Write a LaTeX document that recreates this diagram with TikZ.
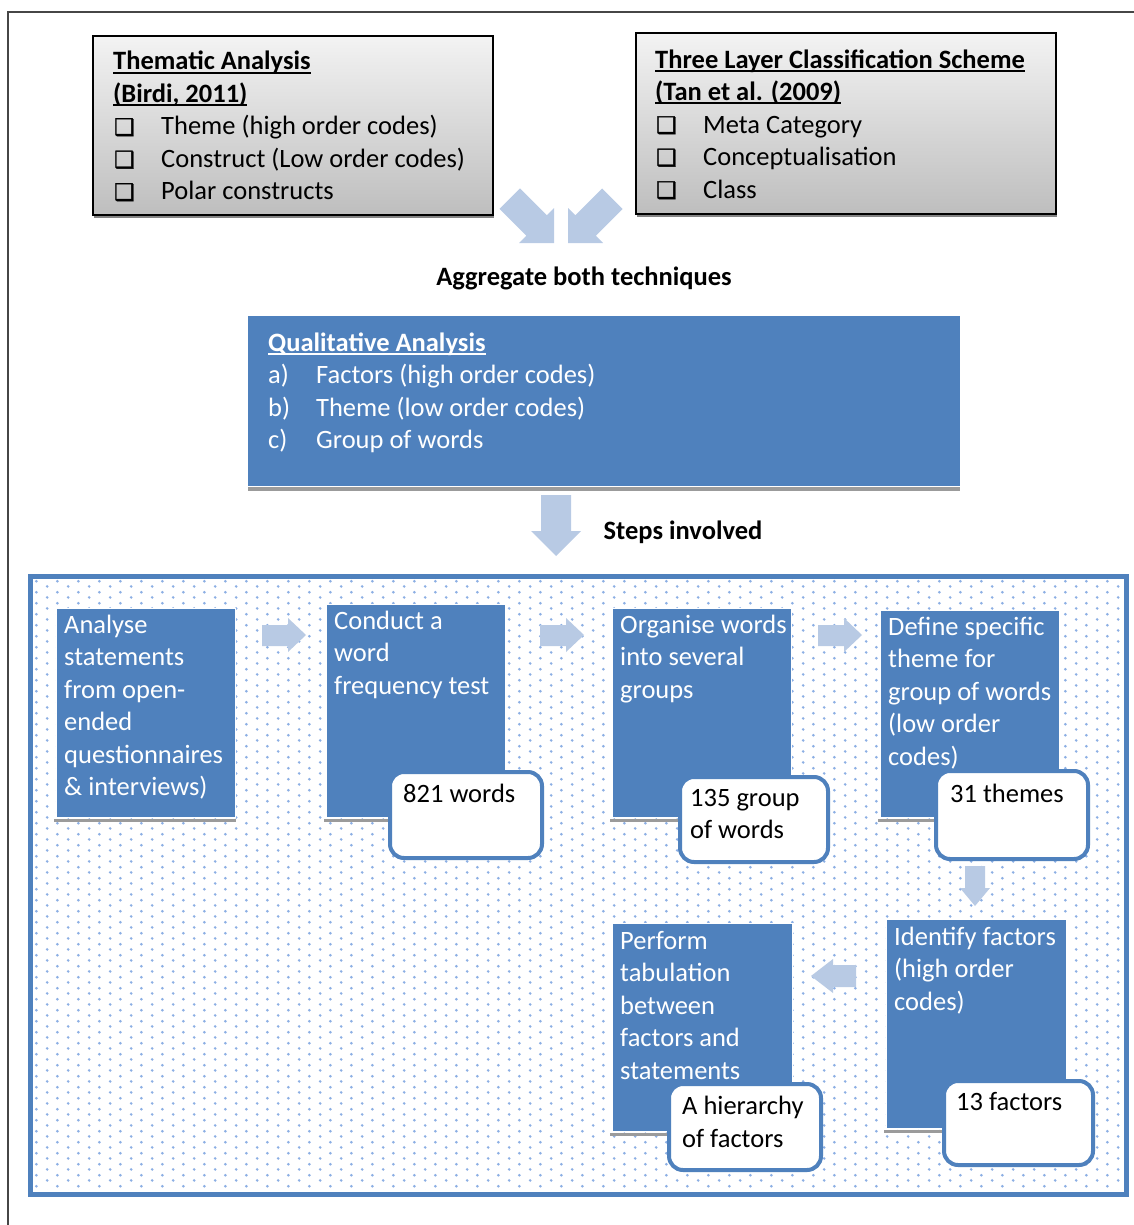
\documentclass[tikz,border=0pt]{standalone}
\usepackage{fontspec}
\setmainfont{Carlito}
\newfontfamily\dejavu[FakeBold=1.6]{DejaVu Sans}
\usetikzlibrary{patterns}
\definecolor{boxblue}{RGB}{79,129,189}
\definecolor{arrowblue}{RGB}{184,202,228}
\definecolor{dotblue}{RGB}{140,175,228}
\definecolor{shadowgray}{RGB}{155,155,155}
\definecolor{graytop}{RGB}{243,243,243}
\definecolor{graybot}{RGB}{190,190,190}
\definecolor{framegray}{RGB}{70,70,70}
\newcommand\mainsize{\fontsize{26.5pt}{32.5pt}\selectfont}
\newcommand\myul[1]{\setbox0\hbox{#1}\rlap{\rule[-3.6pt]{\wd0}{1.8pt}}\box0}
\newcommand\cbx{\makebox[48pt][l]{\hspace{1pt}{\dejavu\fontsize{23pt}{23pt}\selectfont ❑}}}
\pgfdeclarepatternformonly{offsetdots}{\pgfqpoint{0pt}{0pt}}{\pgfqpoint{21.3pt}{10.66pt}}{\pgfqpoint{21.3pt}{10.66pt}}{%
  \pgfpathcircle{\pgfqpoint{5.3pt}{2.66pt}}{1.5pt}%
  \pgfpathcircle{\pgfqpoint{15.95pt}{7.99pt}}{1.5pt}%
  \pgfusepath{fill}}
\tikzset{
  bluebox/.style={fill=boxblue, draw=white, line width=0.8pt, anchor=north west, inner sep=0pt},
  callout/.style={fill=white, draw=boxblue, line width=4pt, rounded corners=14pt, anchor=north west, inner sep=0pt},
  graybox/.style={draw=black, line width=2pt, top color=graytop, bottom color=graybot, anchor=north west, inner sep=0pt},
  txt/.style={inner sep=0pt, anchor=base west, align=left, font=\mainsize},
  wtxt/.style={txt, text=white},
  blockarrow/.style={fill=arrowblue, draw=none},
  shadowline/.style={fill=shadowgray, draw=none},
}
\begin{document}
\begin{tikzpicture}[x=1pt, y=-1pt]
\useasboundingbox (0,0) rectangle (1134,1225);
% outer frame (top and left edges)
\draw[framegray, line width=1.5pt] (8,1225) -- (8,12) -- (1134,12);

% top boxes (text anchored at the baseline of the last line)
\fill[shadowgray!85!black] (94,39) rectangle (494,218);
\node[graybox, minimum width=400pt, minimum height=179pt] (thematic) at (92,35) {};
\node[txt] (thematicT) at (113,200) {\textbf{\myul{Thematic Analysis}}\\\textbf{\myul{(Birdi, 2011)}}\\\cbx Theme (high order codes)\\\cbx Construct (Low order codes)\\\cbx Polar constructs};

\fill[shadowgray!85!black] (637,36) rectangle (1057,217);
\node[graybox, minimum width=420pt, minimum height=181pt] (threelayer) at (635,32) {};
\node[txt] (threelayerT) at (655,198) {\textbf{\myul{Three Layer Classification Scheme}}\\\textbf{\myul{(Tan et al. (2009)}}\\\cbx Meta Category\\\cbx Conceptualisation\\\cbx Class};

% diagonal arrows
\fill[blockarrow] (519.9,188.4) -- (546.75,215.25) -- (554,208) -- (554,243) -- (519,243) -- (526.25,235.75) -- (499.4,208.9) -- cycle;
\fill[blockarrow] (602.1,188.4) -- (575.25,215.25) -- (568,208) -- (568,243) -- (603,243) -- (595.75,235.75) -- (622.6,208.9) -- cycle;
\node[txt, anchor=base] (aggregate) at (584,285) {\textbf{Aggregate both techniques}};

% qualitative analysis
\fill[shadowline] (248,486.5) rectangle (960,490.5);
\node[bluebox, draw=none, minimum width=712pt, minimum height=170pt] (qual) at (248,316) {};
\node[wtxt] (qualT) at (268,448.5) {\textbf{\myul{Qualitative Analysis}}\\\makebox[48pt][l]{a)}Factors (high order codes)\\\makebox[48pt][l]{b)}Theme (low order codes)\\\makebox[48pt][l]{c)}Group of words};

% down arrow
\fill[blockarrow] (541,495) -- (571,495) -- (571,531) -- (581,531) -- (556,556) -- (531,531) -- (541,531) -- cycle;
\node[txt, anchor=base] (stepsinv) at (683,539) {\textbf{Steps involved}};

% dotted frame
\node[draw=boxblue, line width=5pt, fill=white, minimum width=1096pt, minimum height=618pt, anchor=north west, inner sep=0pt] (frame) at (28,574) {};
\fill[pattern=offsetdots, pattern color=dotblue] (31,577) rectangle (1121,1189);

% step 1
\fill[shadowline] (54,818.5) rectangle (236,821.5);
\node[bluebox, minimum width=179pt, minimum height=209pt] (s1) at (56,608) {};
\node[wtxt] (s1T) at (64,795.5) {Analyse\\statements\\from open-\\ended\\questionnaires\\\& interviews)};

% step 2
\fill[shadowline] (324,818.5) rectangle (506,821.5);
\node[bluebox, minimum width=179pt, minimum height=213pt] (s2) at (326,604) {};
\node[wtxt] (s2T) at (334,694) {Conduct a\\word\\frequency test};
\node[callout, minimum width=152pt, minimum height=86pt] (c2) at (388,770) {};
\node[txt] (c2T) at (403,802) {821 words};

% step 3
\fill[shadowline] (610,818.5) rectangle (792,821.5);
\node[bluebox, minimum width=179pt, minimum height=209pt] (s3) at (612,608) {};
\node[wtxt] (s3T) at (620,698) {Organise words\\into several\\groups};
\node[callout, minimum width=148pt, minimum height=85pt] (c3) at (678,775) {};
\node[txt] (c3T) at (690,838.5) {135 group\\of words};

% step 4
\fill[shadowline] (878,818.5) rectangle (1060,821.5);
\node[bluebox, minimum width=179pt, minimum height=207pt] (s4) at (880,610) {};
\node[wtxt] (s4T) at (888,765) {Define specific\\theme for\\group of words\\(low order\\codes)};
\node[callout, minimum width=152pt, minimum height=88pt] (c4) at (934,769) {};
\node[txt] (c4T) at (950,802) {31 themes};

% step 5
\fill[shadowline] (884,1129.5) rectangle (1067,1132.5);
\node[bluebox, minimum width=180pt, minimum height=209pt] (s5) at (886,919) {};
\node[wtxt] (s5T) at (894,1010) {Identify factors\\(high order\\codes)};
\node[callout, minimum width=149pt, minimum height=84pt] (c5) at (942,1079) {};
\node[txt] (c5T) at (956,1110) {13 factors};

% step 6
\fill[shadowline] (610,1133) rectangle (793,1136);
\node[bluebox, minimum width=180pt, minimum height=208pt] (s6) at (612,923) {};
\node[wtxt] (s6T) at (620,1079) {Perform\\tabulation\\between\\factors and\\statements};
\node[callout, minimum width=152pt, minimum height=86pt] (c6) at (667,1082) {};
\node[txt] (c6T) at (682,1147) {A hierarchy\\of factors};

% step arrows
\fill[blockarrow] (262,625) -- (288,625) -- (288,618) -- (306,635) -- (288,652) -- (288,646) -- (262,646) -- cycle;
\fill[blockarrow] (540,625) -- (566,625) -- (566,618) -- (584,635) -- (566,652) -- (566,646) -- (540,646) -- cycle;
\fill[blockarrow] (818,625) -- (844,625) -- (844,618) -- (862,635) -- (844,652) -- (844,646) -- (818,646) -- cycle;
\fill[blockarrow] (965,866) -- (985,866) -- (985,888) -- (990,888) -- (975,906) -- (960,888) -- (965,888) -- cycle;
\fill[blockarrow] (856,965) -- (833,965) -- (833,959) -- (811,976) -- (833,993) -- (833,987) -- (856,987) -- cycle;
\end{tikzpicture}
\end{document}
